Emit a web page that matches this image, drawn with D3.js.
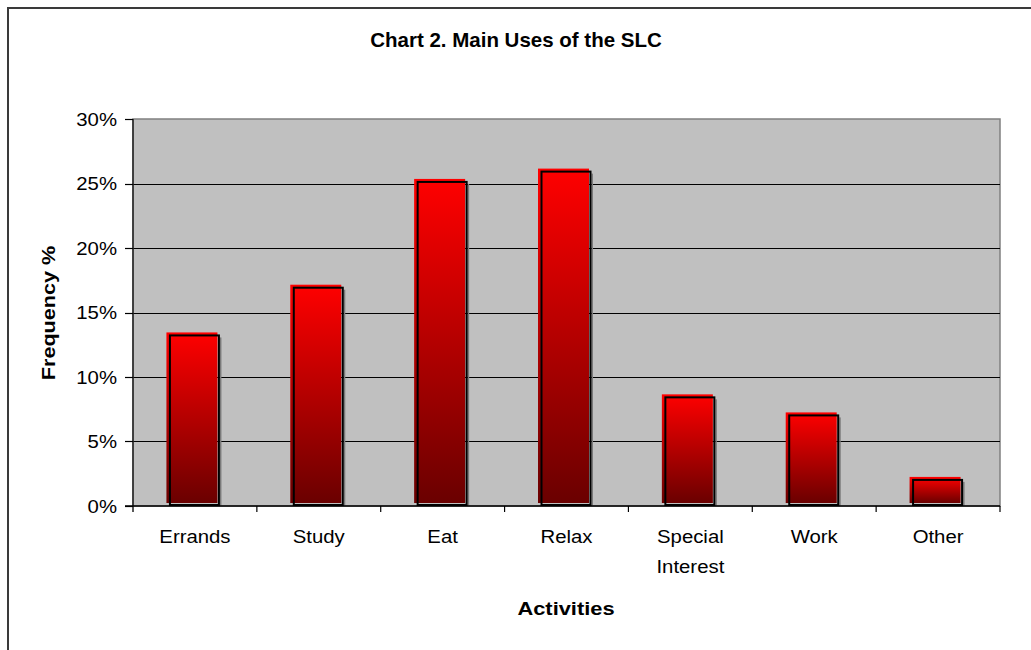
<!DOCTYPE html>
<html>
<head>
<meta charset="utf-8">
<script src="https://cdn.jsdelivr.net/npm/d3@7"></script>
<style>
  html, body { margin: 0; padding: 0; background: #fff; }
  svg { display: block; }
  text { font-family: "Liberation Sans", Arial, sans-serif; fill: #000; }
</style>
</head>
<body>
<svg id="chart" width="1031" height="650"></svg>
<script>
const categories = ["Errands", "Study", "Eat", "Relax", "Special Interest", "Work", "Other"];
const values = [0.133, 0.170, 0.252, 0.260, 0.085, 0.071, 0.021];
const yTicks = [0, 0.05, 0.10, 0.15, 0.20, 0.25, 0.30];
const titleText = "Chart 2. Main Uses of the SLC";
const xTitle = "Activities";
const yTitle = "Frequency %";

const svg = d3.select("#chart");
const SX = 1.1; // slight horizontal text stretch as in the reference
const plot = { left: 133, right: 1000, top: 119, bottom: 506 };

// outer frame
svg.append("rect").attr("x", 8).attr("y", 8).attr("width", 1100).attr("height", 700)
  .attr("fill", "#fff").attr("stroke", "#3a3a3a").attr("stroke-width", 2);

const x = d3.scaleBand().domain(categories).range([plot.left, plot.right]).padding(0);
const y = d3.scaleLinear().domain([0, 0.30]).range([plot.bottom, plot.top]);

// gradient
const defs = svg.append("defs");
const grad = defs.append("linearGradient").attr("id", "barGrad")
  .attr("x1", 0).attr("y1", 0).attr("x2", 0).attr("y2", 1);
grad.append("stop").attr("offset", "0%").attr("stop-color", "#ff0000");
grad.append("stop").attr("offset", "100%").attr("stop-color", "#6a0000");

// plot background
svg.append("rect").attr("x", plot.left).attr("y", plot.top)
  .attr("width", plot.right - plot.left).attr("height", plot.bottom - plot.top)
  .attr("fill", "#c0c0c0").attr("stroke", "#808080").attr("stroke-width", 1.5);

// gridlines
svg.append("g").selectAll("line").data(yTicks.filter(t => t > 0 && t < 0.30)).join("line")
  .attr("x1", plot.left).attr("x2", plot.right)
  .attr("y1", d => Math.round(y(d)) + 0.5).attr("y2", d => Math.round(y(d)) + 0.5)
  .attr("stroke", "#000").attr("stroke-width", 1.2);

// bars
const bw = x.bandwidth();
const bars = svg.append("g");
const cx = d => x(d.c) + bw / 2 - 0.5;
const data = categories.map((c, i) => ({ c, v: values[i] }));
// shadow
bars.selectAll("rect.sh").data(data).join("rect").attr("class", "sh")
  .attr("x", d => cx(d) + 25.5).attr("y", d => y(d.v) + 3)
  .attr("width", 1.5).attr("height", d => plot.bottom - y(d.v) - 3)
  .attr("fill", "#7a7a7a");
// fill
bars.selectAll("rect.f").data(data).join("rect").attr("class", "f")
  .attr("x", d => cx(d) - 28).attr("y", d => y(d.v) - 2)
  .attr("width", 51).attr("height", d => plot.bottom - 3 - (y(d.v) - 2))
  .attr("fill", "url(#barGrad)");
// outline
bars.selectAll("rect.o").data(data).join("rect").attr("class", "o")
  .attr("x", d => cx(d) - 24.5).attr("y", d => y(d.v) + 1)
  .attr("width", 49).attr("height", d => plot.bottom - 1 - (y(d.v) + 1))
  .attr("fill", "none").attr("stroke", "#000").attr("stroke-width", 2);

// axes lines
svg.append("line").attr("x1", plot.left).attr("x2", plot.left)
  .attr("y1", plot.top).attr("y2", plot.bottom + 6).attr("stroke", "#222").attr("stroke-width", 1.5);
svg.append("line").attr("x1", plot.left - 8).attr("x2", plot.right)
  .attr("y1", plot.bottom).attr("y2", plot.bottom).attr("stroke", "#000").attr("stroke-width", 1.5);

// y ticks
const yg = svg.append("g");
yg.selectAll("line").data(yTicks).join("line")
  .attr("x1", plot.left - 8).attr("x2", plot.left)
  .attr("y1", d => Math.round(y(d)) + 0.5).attr("y2", d => Math.round(y(d)) + 0.5)
  .attr("stroke", "#000").attr("stroke-width", 1.2);
yg.selectAll("text").data(yTicks).join("text")
  .attr("transform", d => `translate(117,${y(d) + 6.5}) scale(${SX},1)`)
  .attr("text-anchor", "end").attr("font-size", 18.5)
  .text(d => d3.format(".0%")(d));

// x ticks
const xg = svg.append("g");
xg.selectAll("line").data(categories.slice(1).concat(["__end"])).join("line")
  .attr("x1", (d, i) => plot.left + (i + 1) * bw).attr("x2", (d, i) => plot.left + (i + 1) * bw)
  .attr("y1", plot.bottom).attr("y2", plot.bottom + 6)
  .attr("stroke", "#000").attr("stroke-width", 1.2);
xg.selectAll("text").data(categories).join("text")
  .attr("transform", d => `translate(${x(d) + bw / 2},543) scale(${SX},1)`)
  .attr("text-anchor", "middle").attr("font-size", 18.5)
  .each(function(d) {
    const words = d.split(" ");
    const t = d3.select(this);
    words.forEach((w, i) => {
      t.append("tspan").attr("x", 0).attr("dy", i === 0 ? 0 : 30).text(w);
    });
  });

// title
svg.append("text")
  .attr("transform", `translate(516,47)`)
  .attr("text-anchor", "middle").attr("font-size", 20.5).attr("font-weight", "bold")
  .text(titleText);

// x title
svg.append("text")
  .attr("transform", `translate(566,615) scale(1.15,1)`)
  .attr("text-anchor", "middle").attr("font-size", 19).attr("font-weight", "bold")
  .text(xTitle);

// y title
svg.append("text")
  .attr("transform", `translate(55,313) rotate(-90) scale(1.2,1)`)
  .attr("text-anchor", "middle").attr("font-size", 18).attr("font-weight", "bold")
  .text(yTitle);
</script>
</body>
</html>
